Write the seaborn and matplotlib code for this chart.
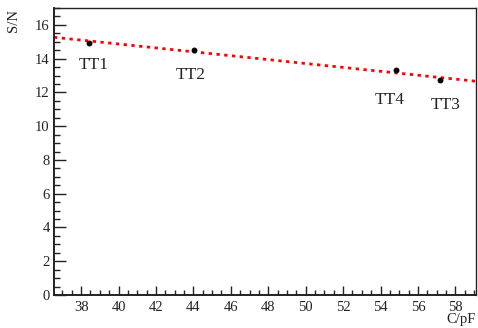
import matplotlib
matplotlib.use("Agg")
import matplotlib.pyplot as plt
import numpy as np
import pandas as pd
import seaborn as sns
from matplotlib.ticker import MultipleLocator

sns.set_style("white")
plt.rcParams["font.family"] = ["Liberation Serif", "DejaVu Serif"]

# ---------------------------------------------------------------------
# data
# ---------------------------------------------------------------------
labels = ["TT1", "TT2", "TT4", "TT3"]
cap_pf = [38.4, 44.05, 54.8, 57.2]
snr = [14.95, 14.52, 13.3, 12.72]
label_dx = [4, -3, -4, 4]      # label offsets in points
label_dy = [-16, -18, -21, -18]

df = pd.DataFrame({"label": labels, "C": cap_pf, "SN": snr})

# linear fit through the points
slope, icpt = np.polyfit(df["C"], df["SN"], 1)
xfit = np.array([36.55, 59.1])
fit = pd.DataFrame({"C": xfit, "SN": slope * xfit + icpt})

fig = plt.figure(figsize=(4.78, 3.28), dpi=100)
ax = fig.add_axes([54 / 478, 1 - 295 / 328, (476 - 54) / 478, (295 - 8) / 328])

sns.lineplot(data=fit, x="C", y="SN", ax=ax, color="#ff0000",
             linestyle=(0, (1.2, 1.6)), linewidth=2)
sns.scatterplot(data=df, x="C", y="SN", ax=ax, color="black", s=18,
                edgecolor="black", linewidth=0, zorder=5)

for lab, x, y, dx, dy in zip(labels, cap_pf, snr, label_dx, label_dy):
    ax.annotate(lab, (x, y), xytext=(dx, dy), textcoords="offset points",
                ha="center", va="center", fontsize=12.5, color="#222222")

ax.set_xlim(36.55, 59.1)
ax.set_ylim(0, 17)
ax.xaxis.set_major_locator(MultipleLocator(2))
ax.xaxis.set_minor_locator(MultipleLocator(0.5))
ax.yaxis.set_major_locator(MultipleLocator(2))
ax.yaxis.set_minor_locator(MultipleLocator(0.5))
ax.tick_params(which="both", direction="in", bottom=True, left=True,
               top=False, right=False, labelsize=10.5, width=1,
               colors="#222222")
ax.tick_params(axis="x", which="major", length=6.5, pad=4)
ax.tick_params(axis="x", which="minor", length=3.5)
ax.tick_params(axis="y", which="major", length=8.6, pad=3)
ax.tick_params(axis="y", which="minor", length=4.5)

ax.set_xlabel("")
ax.set_ylabel("")
fig.text(476 / 478, 1 - 319 / 328, "C/pF", ha="right", va="center",
         fontsize=10.5, color="#222222")
fig.text(14 / 478, 1 - 20 / 328, "S/N", ha="center", va="center",
         rotation=90, fontsize=10.5, color="#222222")

for side in ["left", "bottom"]:
    ax.spines[side].set_linewidth(1.4)
for side in ["top", "right"]:
    ax.spines[side].set_linewidth(1.0)
for sp in ax.spines.values():
    sp.set_color("#222222")

fig.savefig("out.png", dpi=100)
